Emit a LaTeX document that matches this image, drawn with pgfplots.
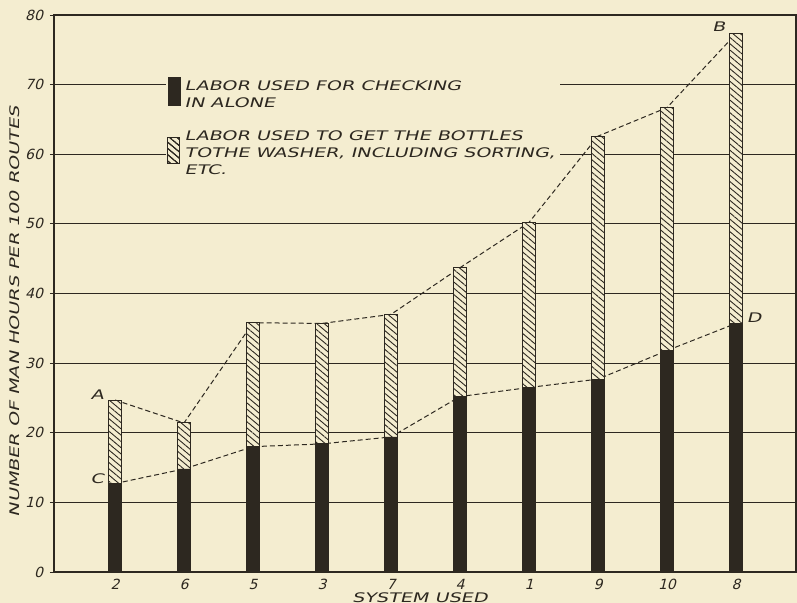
\documentclass[border=0pt]{standalone}
\usepackage{fontspec}
\usepackage{pgfplots}
\pgfplotsset{compat=1.18}
\usetikzlibrary{patterns.meta}
\newfontfamily\hand[FakeStretch=1.45,FakeSlant=0.25]{DejaVu Sans}
\newfontfamily\handnum[FakeSlant=0.25]{DejaVu Sans}
\definecolor{paper}{RGB}{244,237,208}
\definecolor{ink}{RGB}{45,40,32}
\newcommand\lettering{\hand\fontsize{6.6}{8.5}\selectfont}

\begin{document}
\begin{tikzpicture}
\fill[paper] (-27pt,-15.5pt) rectangle (371.5pt,286pt);
\begin{axis}[
  at={(0,0)}, anchor=south west,
  scale only axis, width=371pt, height=278.5pt,
  xmin=-0.884, xmax=9.87, ymin=0, ymax=80,
  xtick={0,...,9}, xticklabels={2,6,5,3,7,4,1,9,10,8},
  ytick={0,10,...,80},
  ymajorgrids, grid style={ink, line width=0.45pt},
  axis line style={ink, line width=0.6pt},
  xtick style={draw=none},
  ytick style={ink, line width=0.45pt}, tick align=outside, major tick length=2pt,
  ticklabel style={font=\handnum\fontsize{7}{8}\selectfont, text=ink},
  xticklabel style={yshift=2pt},
  /pgf/number format/assume math mode=true,
  xlabel={SYSTEM USED},
  ylabel={NUMBER OF MAN HOURS PER 100 ROUTES},
  label style={font=\lettering, text=ink},
  xlabel style={at={(axis description cs:0.493,-0.046)}, anchor=center},
  ylabel style={at={(axis description cs:-0.0526,0.467)}, anchor=center},
  legend style={at={(axis description cs:0.151,0.892)}, anchor=north west,
    fill=paper, draw=none, font=\lettering, text=ink,
    cells={anchor=west, align=left}, row sep=6pt, inner sep=0.5pt},
  reverse legend,
]
% dashed lines A-B (totals) and C-D (checking only), drawn under the bars
\addplot[ink, line width=0.5pt, dash pattern=on 2.5pt off 1.5pt, forget plot]
  coordinates {(0,24.7) (1,21.4) (2,35.8) (3,35.7) (4,37.0) (5,43.7) (6,50.2) (7,62.6) (8,66.7) (9,77.3)};
\addplot[ink, line width=0.5pt, dash pattern=on 2.5pt off 1.5pt, forget plot]
  coordinates {(0,12.7) (1,14.8) (2,18.0) (3,18.4) (4,19.4) (5,25.2) (6,26.5) (7,27.7) (8,31.8) (9,35.7)};

% total labour (hatched)
\addplot[ybar, bar width=6.5pt, bar shift=0pt, draw=ink, line width=0.5pt, fill=paper,
  postaction={pattern={Lines[angle=-40,distance=2.4pt,line width=0.45pt]}, pattern color=ink},
  legend image code/.code={
    \filldraw[draw=ink, fill=paper, line width=0.5pt] (0pt,-5pt) rectangle (6pt,8pt);
    \fill[pattern={Lines[angle=-40,distance=2.4pt,line width=0.45pt]}, pattern color=ink] (0pt,-5pt) rectangle (6pt,8pt);}]
  coordinates {(0,24.7) (1,21.4) (2,35.8) (3,35.7) (4,37.0) (5,43.7) (6,50.2) (7,62.6) (8,66.7) (9,77.3)};
\addlegendentry{LABOR USED TO GET THE BOTTLES\\TOTHE WASHER, INCLUDING SORTING,\\ETC.}

% checking in alone (black)
\addplot[ybar, bar width=6.5pt, bar shift=0pt, draw=ink, fill=ink,
  legend image code/.code={\fill[ink] (0pt,-5pt) rectangle (6pt,9pt);}]
  coordinates {(0,12.7) (1,14.8) (2,18.0) (3,18.4) (4,19.4) (5,25.2) (6,26.5) (7,27.7) (8,31.8) (9,35.7)};
\addlegendentry{LABOR USED FOR CHECKING\\IN ALONE}

\node[font=\lettering, text=ink] at (axis cs:-0.26,25.4) {A};
\node[font=\lettering, text=ink] at (axis cs:-0.26,13.4) {C};
\node[font=\lettering, text=ink] at (axis cs:8.75,78.3) {B};
\node[font=\lettering, text=ink] at (axis cs:9.26,36.5) {D};
\end{axis}
\pgfresetboundingbox
\path[use as bounding box] (-27pt,-15.5pt) rectangle (371.5pt,286pt);
\end{tikzpicture}
\end{document}
